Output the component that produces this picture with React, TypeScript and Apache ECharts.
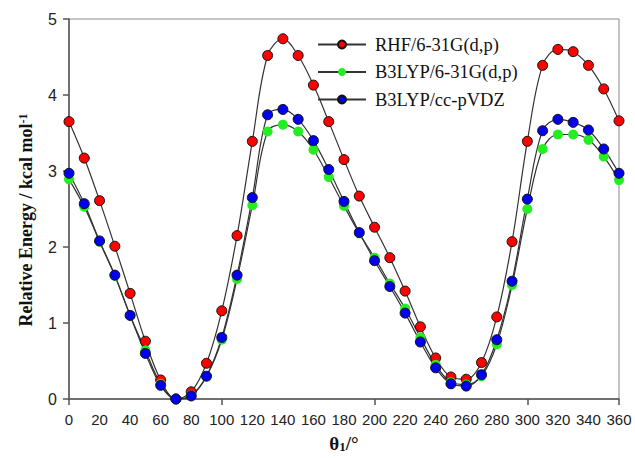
import React, { useEffect, useRef } from "react";
import * as echarts from "echarts";

const angles = [0,10,20,30,40,50,60,70,80,90,100,110,120,130,140,150,160,170,180,190,200,210,220,230,240,250,260,270,280,290,300,310,320,330,340,350,360];

const rhf = [3.65,3.17,2.61,2.01,1.39,0.76,0.25,0.0,0.095,0.47,1.16,2.15,3.39,4.52,4.74,4.52,4.13,3.65,3.15,2.67,2.26,1.86,1.42,0.95,0.54,0.29,0.26,0.48,1.08,2.07,3.39,4.39,4.60,4.57,4.39,4.08,3.66];
const b3lyp631 = [2.89,2.53,2.07,1.62,1.10,0.64,0.20,0.0,0.05,0.30,0.78,1.58,2.55,3.52,3.61,3.52,3.28,2.92,2.54,2.18,1.86,1.52,1.19,0.81,0.45,0.22,0.19,0.30,0.72,1.50,2.50,3.29,3.48,3.48,3.41,3.19,2.88];
const b3lypcc = [2.97,2.57,2.08,1.63,1.10,0.60,0.18,0.0,0.04,0.30,0.81,1.63,2.65,3.74,3.81,3.68,3.40,3.02,2.60,2.19,1.82,1.48,1.13,0.75,0.41,0.20,0.17,0.32,0.78,1.55,2.63,3.53,3.68,3.64,3.54,3.29,2.97];

const seriesNames = ["RHF/6-31G(d,p)", "B3LYP/6-31G(d,p)", "B3LYP/cc-pVDZ"];

const serif = "'Liberation Serif', 'Times New Roman', serif";
const sans = "'Liberation Sans', Arial, sans-serif";

export default function App() {
  const ref = useRef<HTMLDivElement>(null);
  useEffect(() => {
    if (!ref.current) return;
    const chart = echarts.init(ref.current, null, { renderer: "svg" });
    const mk = (name: string, vals: number[], color: string, border: boolean) => ({
      name,
      type: "line",
      xAxisIndex: 0,
      yAxisIndex: 0,
      smooth: 0.35,
      data: angles.map((a, i) => [a, vals[i]]),
      symbol: "circle",
      symbolSize: 10,
      lineStyle: { color: "#333", width: 1.2 },
      itemStyle: { color, borderColor: border ? "#111" : color, borderWidth: border ? 1 : 0 },
      z: 2,
    });
    chart.setOption({
      animation: false,
      grid: { left: 69, right: 16, top: 19, bottom: 54, show: true, borderColor: "#888", borderWidth: 1 },
      legend: {
        left: 312,
        top: 30,
        orient: "vertical",
        itemWidth: 48,
        itemHeight: 10,
        itemGap: 8.5,
        data: seriesNames,
        textStyle: { fontFamily: serif, fontSize: 18.5, color: "#111", padding: [0, 0, 0, 4] },
      },
      graphic: [
        {
          type: "text",
          x: 26,
          y: 220,
          rotation: Math.PI / 2,
          style: {
            text: "{t|Relative Energy / kcal mol}{s|-1}",
            align: "center",
            verticalAlign: "middle",
            rich: {
              t: { fontFamily: serif, fontSize: 18, fontWeight: "bold", fill: "#111", verticalAlign: "bottom" },
              s: { fontFamily: serif, fontSize: 12, fontWeight: "bold", fill: "#111", verticalAlign: "top" },
            },
          },
        },
      ],
      xAxis: [
        {
          type: "value",
          min: 0,
          max: 360,
          interval: 20,
          splitLine: { show: false },
          axisLine: { lineStyle: { color: "#555", width: 1.5 } },
          axisTick: { show: false },
          axisLabel: { fontFamily: sans, fontSize: 15, color: "#222", margin: 13 },
          name: "{t|θ}{s|1}{t|/°}",
          nameLocation: "middle",
          nameGap: 35,
          nameTextStyle: {
            rich: {
              t: { fontFamily: serif, fontSize: 19, fontWeight: "bold", color: "#111", verticalAlign: "top" },
              s: { fontFamily: serif, fontSize: 13, fontWeight: "bold", color: "#111", verticalAlign: "bottom" },
            },
          },
        },
        {
          type: "value",
          min: 0,
          max: 360,
          interval: 100,
          position: "bottom",
          splitLine: { show: false },
          axisLine: { show: false },
          axisLabel: { show: false },
          axisTick: { show: true, length: 6, lineStyle: { color: "#555", width: 1.5 } },
        },
      ],
      yAxis: {
        type: "value",
        min: 0,
        max: 5,
        interval: 1,
        splitLine: { show: false },
        axisLine: { show: true, lineStyle: { color: "#555", width: 1.5 } },
        axisTick: { show: true, length: 6, lineStyle: { color: "#555", width: 1.5 } },
        axisLabel: { fontFamily: sans, fontSize: 16, color: "#222", margin: 12 },
      },
      series: [
        mk(seriesNames[0], rhf, "#ff0000", true),
        mk(seriesNames[1], b3lyp631, "#22ee22", false),
        mk(seriesNames[2], b3lypcc, "#0000ee", true),
      ],
    });
    return () => chart.dispose();
  }, []);
  return <div ref={ref} style={{ width: 635, height: 458, position: "absolute", left: 0, top: 0 }} />;
}
